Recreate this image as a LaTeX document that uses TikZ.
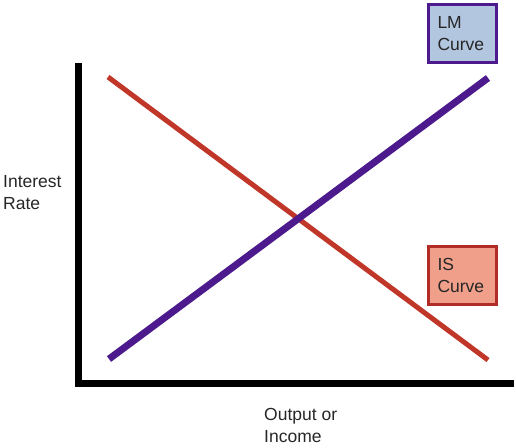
\documentclass[tikz,border=0pt]{standalone}
\usepackage{fontspec}
\setmainfont{Liberation Sans}
\definecolor{isred}{RGB}{192,54,40}
\definecolor{lmpurple}{RGB}{76,26,140}
\definecolor{lmfill}{RGB}{178,198,224}
\definecolor{isfill}{RGB}{240,160,138}
\definecolor{isborder}{RGB}{176,44,36}
\begin{document}
\begin{tikzpicture}[x=1pt,y=-1pt,
  lbl/.style={font=\fontsize{17.5}{22}\selectfont, text=black!85, align=left, inner sep=0pt},
  curvebox/.style={rectangle, line width=3pt, minimum width=68pt, minimum height=58pt,
    align=left, text width=50pt, inner sep=0pt, font=\fontsize{17.5}{22}\selectfont, text=black!85}]
\useasboundingbox (0,0) rectangle (516,447);
% axes
\coordinate (ytop) at (78,63);
\coordinate (orig) at (78,383.5);
\coordinate (xend) at (514,383.5);
\draw[line width=7pt, miter limit=10] (ytop) -- (orig) -- (xend);
% IS curve
\coordinate (isA) at (108,77);
\coordinate (isB) at (488,360);
\draw[isred, line width=5pt] (isA) -- (isB);
% LM curve
\coordinate (lmA) at (109,359);
\coordinate (lmB) at (488,78);
\draw[lmpurple, line width=7pt] (lmA) -- (lmB);
% boxes
\node[curvebox, draw=lmpurple, fill=lmfill] (lm) at (462.5,33.5) {LM\\Curve};
\node[curvebox, draw=isborder, fill=isfill] (is) at (462.5,275.5) {IS\\Curve};
% axis labels
\node[lbl, anchor=base west] (ylab) at (3,209) {Interest\\Rate};
\node[lbl, anchor=base west] (xlab) at (264,442) {Output or\\Income};
\end{tikzpicture}
\end{document}
